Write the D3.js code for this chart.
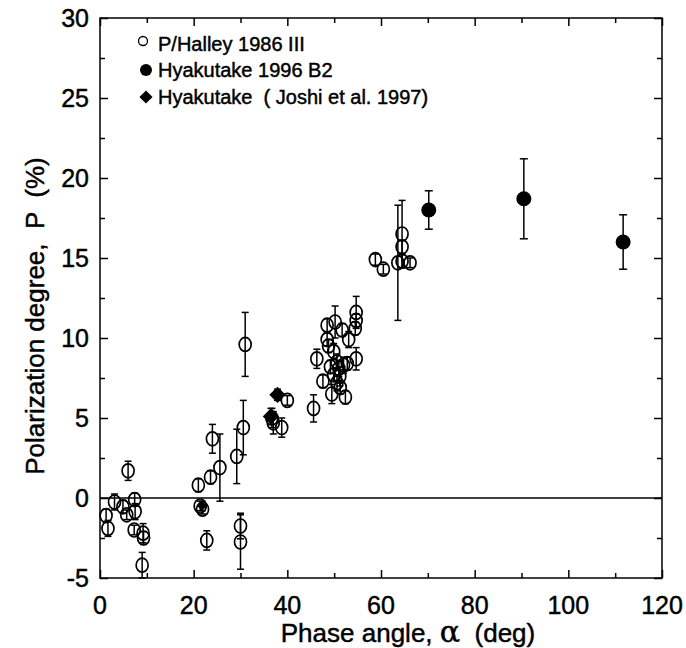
<!DOCTYPE html>
<html>
<head>
<meta charset="utf-8">
<script src="https://cdn.jsdelivr.net/npm/d3@7"></script>
<style>
  body { margin: 0; background: #fff; }
  text { font-family: "Liberation Sans", Arial, sans-serif; fill: #000; stroke: #000; stroke-width: 0.45px; white-space: pre; }
</style>
</head>
<body>
<div id="chart"></div>
<script>
// P/Halley 1986 III (open circles)
var halleyAlpha = [1.3, 1.7, 3.1, 4.9, 5.7, 6.0, 7.4, 7.5, 7.3, 9.2, 9.3, 9.0,
    21.0, 21.4, 21.9, 22.8, 23.6, 24.0, 25.6, 29.2, 30.0, 30.0, 30.6, 31.0,
    36.7, 37.0, 38.8, 40.0, 45.6, 46.3, 47.6, 48.5, 48.5, 48.8, 49.5, 49.9,
    50.2, 50.6, 49.2, 51.0, 52.0, 52.8, 49.9, 51.2, 50.6, 51.3, 51.7, 53.1,
    52.4, 54.7, 54.7, 54.5, 54.7, 58.8, 60.5, 63.6, 64.5, 64.5, 64.5, 66.2];
var halleyP = [-1.1, -1.9, -0.25, -0.55, -1.05, 1.7, -0.1, -0.85, -2.0, -2.2, -2.5, -4.2,
    0.8, -0.5, -0.7, -2.65, 1.3, 3.7, 1.9, 2.6, -1.75, -2.75, 4.4, 9.6,
    5.0, 4.7, 4.4, 6.1, 5.6, 8.7, 7.3, 10.8, 9.9, 9.5, 6.5, 9.15,
    11.0, 8.5, 8.2, 8.1, 8.3, 8.4, 7.7, 7.6, 7.2, 6.9, 10.5, 9.9,
    6.3, 11.6, 11.1, 10.6, 8.7, 14.9, 14.3, 14.7, 16.5, 15.7, 14.8, 14.7];
var halleyErr = [0.4, 0.5, 0.5, 0.4, 0.3, 0.6, 0.4, 0.5, 0.3, 0.6, 0.4, 0.8,
    0.4, 0.3, 0.3, 0.6, 0.4, 0.9, 2.1, 1.7, 0.8, 1.7, 1.7, 2.0,
    0.6, 0.7, 0.6, 0.3, 0.85, 0.6, 0.4, 0.4, 0.4, 0.4, 0.6, 0.5,
    1.0, 0.5, 0.4, 0.5, 0.5, 0.4, 0.4, 0.6, 0.5, 0.4, 0.4, 0.5,
    0.4, 1.0, 0.4, 0.4, 0.7, 0.35, 0.3, 3.6, 2.1, 0.4, 0.4, 0.3];

// Hyakutake 1996 B2 (filled circles)
var hyakAlpha = [70.2, 90.5, 111.7];
var hyakP = [18.0, 18.7, 16.0];
var hyakErr = [1.2, 2.5, 1.7];

// Hyakutake, Joshi et al. 1997 (diamonds)
var joshiAlpha = [37.9, 36.5, 21.8];
var joshiP = [6.45, 5.1, -0.5];
var joshiErr = [0.35, 0.5, 0.3];

var legendLabels = ["P/Halley 1986 III", "Hyakutake 1996 B2", "Hyakutake  ( Joshi et al. 1997)"];

var xTicks = [0, 20, 40, 60, 80, 100, 120];
var yTicks = [-5, 0, 5, 10, 15, 20, 25, 30];

var svgWidth = 686;
var svgHeight = 648;
var margin = { top: 18, right: 24, bottom: 70, left: 100 };
var width = svgWidth - margin.left - margin.right;
var height = svgHeight - margin.top - margin.bottom;

var svg = d3.select("#chart").append("svg")
    .attr("width", svgWidth)
    .attr("height", svgHeight);

var g = svg.append("g")
    .attr("transform", `translate(${margin.left}, ${margin.top})`);

var x = d3.scaleLinear().domain([0, 120]).range([0, width]);
var y = d3.scaleLinear().domain([-5, 30]).range([height, 0]);

// frame
g.append("rect")
    .attr("width", width).attr("height", height)
    .attr("fill", "none").attr("stroke", "#000").attr("stroke-width", 1.5);

// inward ticks on all four sides, minor ones in between
function tickAxis(axisFn, scale, values, len, transform) {
    var ax = g.append("g").attr("transform", transform)
        .call(axisFn(scale).tickValues(values).tickSize(-len).tickFormat(""));
    ax.select(".domain").remove();
    ax.selectAll("line").attr("stroke", "#000").attr("stroke-width", 1.5);
}
var xMinor = d3.range(10, 120, 20);
var yMinor = d3.range(-2.5, 30, 5);
tickAxis(d3.axisBottom, x, xTicks, 8, `translate(0, ${height})`);
tickAxis(d3.axisBottom, x, xMinor, 5, `translate(0, ${height})`);
tickAxis(d3.axisTop, x, xTicks, 8, "translate(0, 0)");
tickAxis(d3.axisTop, x, xMinor, 5, "translate(0, 0)");
tickAxis(d3.axisLeft, y, yTicks, 8, "translate(0, 0)");
tickAxis(d3.axisLeft, y, yMinor, 5, "translate(0, 0)");
tickAxis(d3.axisRight, y, yTicks, 8, `translate(${width}, 0)`);
tickAxis(d3.axisRight, y, yMinor, 5, `translate(${width}, 0)`);

// tick labels
g.selectAll(".xlab").data(xTicks).enter().append("text")
    .attr("x", d => x(d)).attr("y", height + 36)
    .attr("text-anchor", "middle").style("font-size", "25px")
    .text(d => d);
g.selectAll(".ylab").data(yTicks).enter().append("text")
    .attr("x", -11).attr("y", d => y(d)).attr("dy", "0.36em")
    .attr("text-anchor", "end").style("font-size", "25px")
    .text(d => d);

// zero line
g.append("line")
    .attr("x1", 0).attr("x2", width)
    .attr("y1", y(0)).attr("y2", y(0))
    .attr("stroke", "#000").attr("stroke-width", 1.3);

// axis titles
var xt = g.append("text")
    .attr("x", 308).attr("y", height + 64)
    .attr("text-anchor", "middle").style("font-size", "26px");
xt.append("tspan").text("Phase angle, ");
xt.append("tspan").style("font-family", "'DejaVu Serif', serif").style("font-size", "30px").text("α");
xt.append("tspan").text("  (deg)");

g.append("text")
    .attr("transform", `translate(-56, ${height / 2 + 18}) rotate(-90)`)
    .attr("text-anchor", "middle").style("font-size", "26px")
    .text("Polarization degree,  P  (%)");

function errorBars(ax, ay, ae, cap) {
    var idx = d3.range(ax.length);
    var eb = g.append("g").attr("stroke", "#000").attr("stroke-width", 1.5);
    eb.selectAll(".v").data(idx).enter().append("line")
        .attr("x1", i => x(ax[i])).attr("x2", i => x(ax[i]))
        .attr("y1", i => y(ay[i] - ae[i])).attr("y2", i => y(ay[i] + ae[i]));
    eb.selectAll(".t").data(idx).enter().append("line")
        .attr("x1", i => x(ax[i]) - cap).attr("x2", i => x(ax[i]) + cap)
        .attr("y1", i => y(ay[i] + ae[i])).attr("y2", i => y(ay[i] + ae[i]));
    eb.selectAll(".b").data(idx).enter().append("line")
        .attr("x1", i => x(ax[i]) - cap).attr("x2", i => x(ax[i]) + cap)
        .attr("y1", i => y(ay[i] - ae[i])).attr("y2", i => y(ay[i] - ae[i]));
}

// Halley
errorBars(halleyAlpha, halleyP, halleyErr, 3.5);
g.append("g").selectAll("ellipse").data(d3.range(halleyAlpha.length)).enter().append("ellipse")
    .attr("cx", i => x(halleyAlpha[i])).attr("cy", i => y(halleyP[i]))
    .attr("rx", 6).attr("ry", 7)
    .attr("fill", "none").attr("stroke", "#000").attr("stroke-width", 1.7);

// Hyakutake
errorBars(hyakAlpha, hyakP, hyakErr, 4);
g.append("g").selectAll("circle").data(d3.range(hyakAlpha.length)).enter().append("circle")
    .attr("cx", i => x(hyakAlpha[i])).attr("cy", i => y(hyakP[i]))
    .attr("r", 7.5).attr("fill", "#000");

// Joshi
errorBars(joshiAlpha, joshiP, joshiErr, 3.5);
g.append("g").selectAll("path").data(d3.range(joshiAlpha.length)).enter().append("path")
    .attr("transform", i => `translate(${x(joshiAlpha[i])}, ${y(joshiP[i])})`)
    .attr("d", i => d3.symbol().type(d3.symbolDiamond2).size(i === 2 ? 60 : 170)())
    .attr("fill", "#000");

// legend
var leg = g.append("g");
var legY = [26, 52, 79];
leg.append("circle").attr("cx", 43).attr("cy", legY[0] - 3).attr("r", 4.5)
    .attr("fill", "none").attr("stroke", "#000").attr("stroke-width", 1.3);
leg.append("circle").attr("cx", 46).attr("cy", legY[1]).attr("r", 6).attr("fill", "#000");
leg.append("path").attr("transform", `translate(46, ${legY[2]})`)
    .attr("d", d3.symbol().type(d3.symbolDiamond2).size(110)()).attr("fill", "#000");
leg.selectAll(".lt").data(legendLabels).enter().append("text")
    .attr("x", 58).attr("y", (d, i) => legY[i]).attr("dy", "0.35em")
    .style("font-size", "20px")
    .text(d => d);
</script>
</body>
</html>
